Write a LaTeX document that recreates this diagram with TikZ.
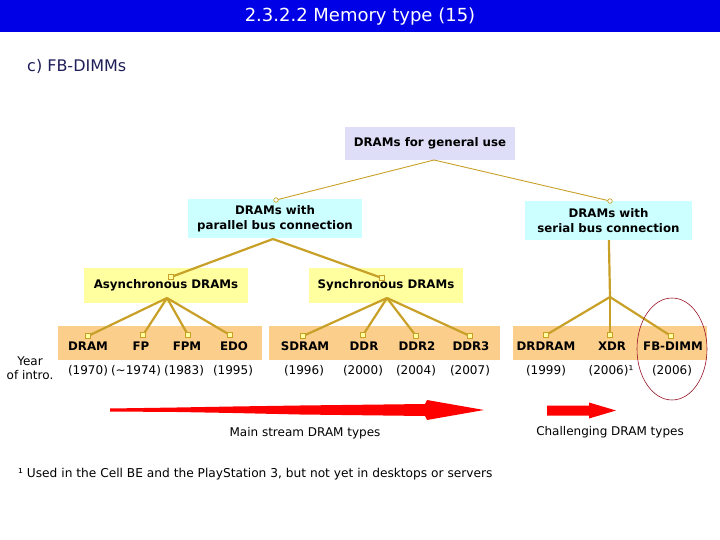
\documentclass[tikz,border=0pt]{standalone}
\usepackage{fontspec}
\setmainfont{DejaVu Sans}
\usepackage{xcolor}
\definecolor{titleblue}{RGB}{0,0,230}
\definecolor{navy}{RGB}{30,30,90}
\definecolor{gold}{RGB}{200,160,40}
\definecolor{lav}{RGB}{222,222,248}
\definecolor{cyanbox}{RGB}{204,255,255}
\definecolor{yelbox}{RGB}{255,255,160}
\definecolor{orangeband}{RGB}{252,206,140}
\definecolor{ringred}{RGB}{150,20,40}
\usetikzlibrary{positioning,shapes.geometric}

\begin{document}
\begin{tikzpicture}[x=1pt, y=-1pt, font=\fontsize{12}{14}\selectfont]
\tikzset{
  box/.style={inner sep=0pt, align=center, font=\bfseries\fontsize{11.8}{14.5}\selectfont},
  band/.style={fill=orangeband, inner sep=0pt, minimum height=34pt},
  item/.style={font=\bfseries\fontsize{11.8}{14}\selectfont, inner sep=0pt, anchor=base},
  year/.style={inner sep=0pt, anchor=base},
  thinlink/.style={draw=gold, line width=0.9pt},
  link/.style={draw=gold, line width=2.2pt},
  ring/.style={circle, draw=gold, fill=white, line width=0.7pt, inner sep=0pt, minimum size=4.5pt},
  sq/.style={rectangle, draw=gold, fill=yelbox, line width=1pt, inner sep=0pt, minimum size=5.5pt}
}
\useasboundingbox (0,0) rectangle (720,540);
\fill[titleblue] (0,0) rectangle (720,32);
\node[text=white, font=\fontsize{18}{20}\selectfont] (title) at (360,16.5) {2.3.2.2 Memory type (15)};
\node[text=navy, anchor=west, inner sep=0pt, font=\fontsize{16}{18}\selectfont] (sub) at (27,66) {c) FB-DIMMs};

\node[box, fill=lav, minimum width=170pt, minimum height=33pt] (general) at (430,143.5) {DRAMs for general use};
\node[box, fill=cyanbox, minimum width=174pt, minimum height=39pt] (parallel) at (275,218.5) {DRAMs with\\parallel bus connection};
\node[box, fill=cyanbox, minimum width=167pt, minimum height=39pt] (serial) at (608.5,220.5) {DRAMs with\\serial bus connection};
\node[box, fill=yelbox, minimum width=164pt, minimum height=35pt] (async) at (166,285.5) {Asynchronous DRAMs};
\node[box, fill=yelbox, minimum width=154pt, minimum height=35pt] (sync) at (386,285.5) {Synchronous DRAMs};

\node[band, minimum width=204pt] (band1) at (160,343) {};
\node[band, minimum width=231pt] (band2) at (384.5,343) {};
\node[band, minimum width=194pt] (band3) at (610,343) {};

\foreach \n/\x/\t/\yx/\yr in {dram/88/DRAM/88/(1970), fp/141/FP/136/(\textasciitilde1974),
    fpm/187/FPM/184/(1983), edo/234/EDO/233/(1995), sdram/305/SDRAM/304/(1996),
    ddr/364/DDR/363/(2000), ddrii/417/DDR2/416/(2004), ddriii/471/DDR3/470/(2007),
    drdram/546/DRDRAM/546/(1999), xdr/612/XDR/611/(2006)¹, fbdimm/673/FB-DIMM/672/(2006)} {
  \node[item] (\n-lbl) at (\x,350) {\t};
  \node[year] (\n-yr) at (\yx,374) {\yr};
}
\node[align=center, inner sep=0pt, font=\fontsize{12}{14}\selectfont] (intro) at (30,368) {Year\\of intro.};

\coordinate (generalfan) at (434,160);
\coordinate (parallelfan) at (273,239);
\coordinate (asyncfan) at (167,298);
\coordinate (syncfan) at (387,298);
\coordinate (serialfan) at (610,297);

\coordinate (parallel-d) at (276,200);
\coordinate (serial-d) at (610,201);
\draw[thinlink] (generalfan) -- (parallel-d);
\draw[thinlink] (generalfan) -- (serial-d);
\node[ring] (parallel-m) at (parallel-d) {};
\node[ring] (serial-m) at (serial-d) {};
\draw[link] (serial) -- (serialfan);

\foreach \n/\dx/\dy/\f in {async/171/277/parallelfan, sync/382/278/parallelfan,
    dram/88/336/asyncfan, fp/143/335/asyncfan, fpm/188/335/asyncfan, edo/230/335/asyncfan,
    sdram/303/336/syncfan, ddr/363/335/syncfan, ddrii/416/336/syncfan, ddriii/470/336/syncfan,
    drdram/546/335/serialfan, xdr/610/335/serialfan, fbdimm/671/336/serialfan} {
  \coordinate (\n-d) at (\dx,\dy);
  \draw[link] (\f) -- (\n-d);
  \node[sq] (\n-m) at (\n-d) {};
}

\node[draw=ringred, line width=0.6pt, ellipse, minimum width=70pt, minimum height=102pt] (ring) at (672,349) {};

\fill[red] (110,408.5) -- (177,407.5) -- (233,406.5) -- (300,405.5) -- (425,404) -- (427,400)
  -- (484,410) -- (427,420) -- (425,416) -- (300,414.5) -- (233,413) -- (177,412) -- (110,411.5) -- cycle;
\fill[red] (547,405.5) -- (589,405.5) -- (589,402.5) -- (616,410.5) -- (589,418.5) -- (589,415.5) -- (547,415.5) -- cycle;

\node (mainlbl) at (305,433) {Main stream DRAM types};
\node (chalbl) at (610,432) {Challenging DRAM types};
\node[anchor=west, inner sep=0pt, font=\fontsize{12.2}{14}\selectfont] (foot) at (18,474) {¹ Used in the Cell BE and the PlayStation 3, but not yet in desktops or servers};
\end{tikzpicture}
\end{document}
